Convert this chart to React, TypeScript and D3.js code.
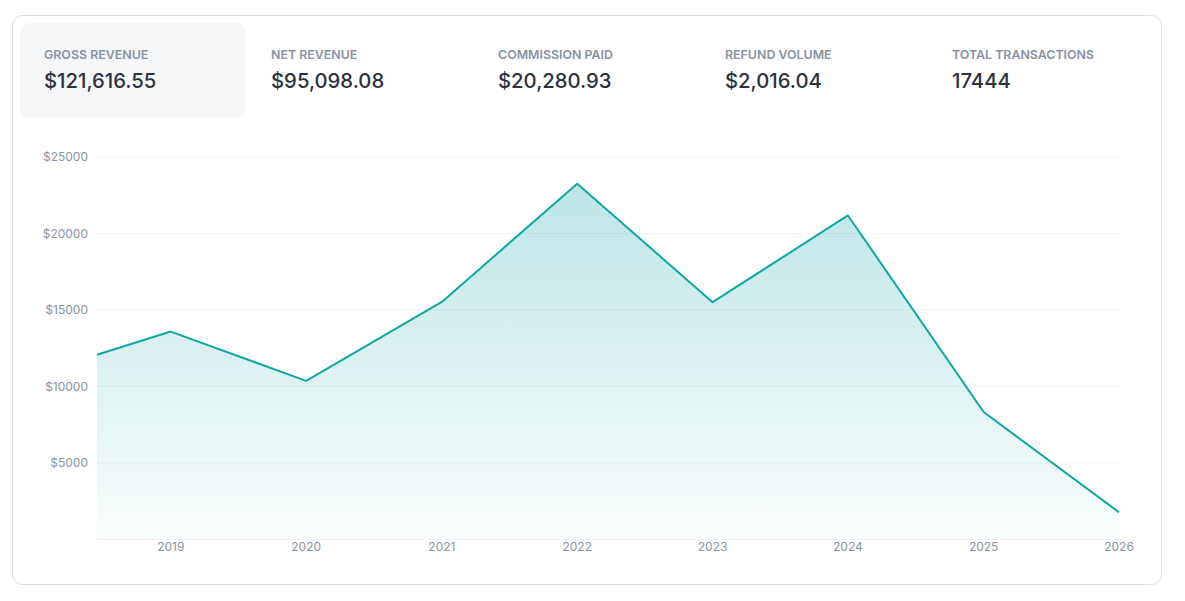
import React from "react";
import * as d3 from "d3";

const statLabels = ["GROSS REVENUE", "NET REVENUE", "COMMISSION PAID", "REFUND VOLUME", "TOTAL TRANSACTIONS"];
const statValues = ["$121,616.55", "$95,098.08", "$20,280.93", "$2,016.04", "17444"];

const dates = ["2018-06-16", "2019-01-01", "2020-01-01", "2021-01-01", "2022-01-01", "2023-01-01", "2024-01-01", "2025-01-01", "2026-01-01"];
const revenue = [12080, 13590, 10370, 15530, 23250, 15510, 21180, 8330, 1780];
const yTicks = [5000, 10000, 15000, 20000, 25000];
const xTickYears = [2019, 2020, 2021, 2022, 2023, 2024, 2025, 2026];

const W = 1185;
const H = 601;
const FONT = "Inter, 'Noto Sans', sans-serif";

export default function App() {
  const parse = d3.timeParse("%Y-%m-%d");
  const data = dates.map((d, i) => ({ date: parse(d) as Date, value: revenue[i] }));

  const x = d3
    .scaleTime()
    .domain([data[0].date, data[data.length - 1].date])
    .range([97, 1119]);
  const y = d3.scaleLinear().domain([0, 25000]).range([539.5, 157]);

  const line = d3
    .line<{ date: Date; value: number }>()
    .x((d) => x(d.date))
    .y((d) => y(d.value));
  const area = d3
    .area<{ date: Date; value: number }>()
    .x((d) => x(d.date))
    .y0(y(0))
    .y1((d) => y(d.value));

  const colX = (i: number) => 44 + i * 227;

  return (
    <svg
      width={W}
      height={H}
      style={{ position: "absolute", left: 0, top: 0, display: "block" }}
      fontFamily={FONT}
    >
      <defs>
        <linearGradient id="fillGrad" x1="0" y1={y(25000)} x2="0" y2={y(0)} gradientUnits="userSpaceOnUse">
          <stop offset="0%" stopColor="#12a5a5" stopOpacity={0.3} />
          <stop offset="100%" stopColor="#12a5a5" stopOpacity={0.02} />
        </linearGradient>
      </defs>
      <rect x={0} y={0} width={W} height={H} fill="#ffffff" />
      <rect x={12.5} y={15.5} width={1149} height={569} rx={10} ry={10} fill="#ffffff" stroke="#dcdee2" strokeWidth={1} />
      <rect x={20} y={23} width={225} height={95} rx={9} ry={9} fill="#f6f7f9" />
      {statLabels.map((lab, i) => (
        <g key={lab}>
          <text x={colX(i)} y={59} fontSize={12.4} fontWeight={600} fill="#8892a2">
            {lab}
          </text>
          <text x={colX(i)} y={87.5} fontSize={20.3} fontWeight={500} fill="#2b3140">
            {statValues[i]}
          </text>
        </g>
      ))}

      {[0, ...yTicks].map((t) => (
        <line key={"g" + t} x1={97} x2={1120} y1={y(t)} y2={y(t)} stroke="#f2f3f5" strokeWidth={1} />
      ))}
      {yTicks.map((t) => (
        <text key={"y" + t} x={88} y={y(t)} dy="0.35em" textAnchor="end" fontSize={12} fill="#8a93a3">
          {"$" + t}
        </text>
      ))}

      <path d={area(data) || ""} fill="url(#fillGrad)" />
      <path d={line(data) || ""} fill="none" stroke="#12a5a5" strokeWidth={2} strokeLinejoin="round" />

      {xTickYears.map((yr) => (
        <text
          key={"x" + yr}
          x={x(new Date(yr, 0, 1))}
          y={547}
          dy="0.35em"
          textAnchor="middle"
          fontSize={12}
          fill="#8a93a3"
        >
          {yr}
        </text>
      ))}
    </svg>
  );
}
